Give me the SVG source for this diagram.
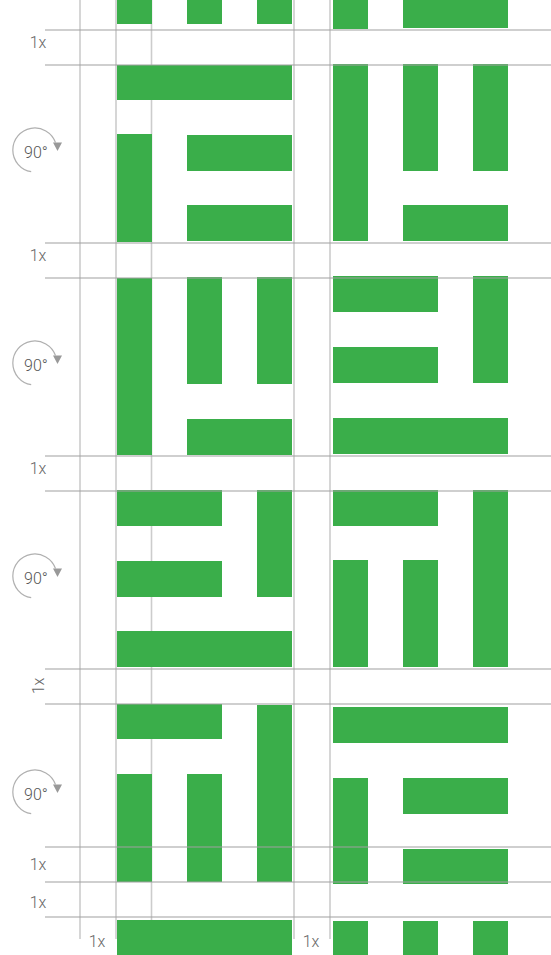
<svg xmlns="http://www.w3.org/2000/svg" width="551" height="955" viewBox="0 0 551 955">
<style>
.v{stroke:#cccccc;stroke-width:1.6;fill:none}
.h{stroke:#a0a0a0;stroke-width:1.2;fill:none}
.g{fill:#3aae4a}
.t{font-family:Roboto,"Liberation Sans",sans-serif;font-size:16px;font-weight:300;fill:#666;text-anchor:middle}
.r{stroke:#b0b0b0;stroke-width:1.2;fill:none}
.a{fill:#999}
</style>
<defs>
<g id="rot">
<path class="r" d="M31.2,171.7 A22,22 0 1 1 55.5,142.5"/>
<polygon class="a" points="53,142.5 62,142.5 57.5,151"/>
<text class="t" x="36" y="158" style="fill:#555">90°</text>
</g>
</defs>
<rect width="551" height="955" fill="#fff"/>
<g id="grid-vertical">
<line class="v" x1="80" y1="0" x2="80" y2="939"/>
<line class="v" x1="116" y1="0" x2="116" y2="939"/>
<line class="v" x1="151.5" y1="0" x2="151.5" y2="920"/>
<line class="v" x1="294" y1="0" x2="294" y2="939"/>
<line class="v" x1="330" y1="0" x2="330" y2="939"/>
</g>
<g id="tile-0">
<rect class="g" x="117" y="0" width="35" height="24"/>
<rect class="g" x="187" y="0" width="35" height="24"/>
<rect class="g" x="257" y="0" width="35" height="24"/>
<rect class="g" x="333" y="0" width="35" height="29"/>
<rect class="g" x="403" y="0" width="105" height="28"/>
</g>
<g id="tile-1">
<rect class="g" x="117" y="65" width="175" height="35"/>
<rect class="g" x="117" y="134" width="35" height="108"/>
<rect class="g" x="187" y="135" width="105" height="36"/>
<rect class="g" x="187" y="205" width="105" height="36"/>
<rect class="g" x="333" y="64" width="35" height="177"/>
<rect class="g" x="403" y="64" width="35" height="107"/>
<rect class="g" x="473" y="64" width="35" height="107"/>
<rect class="g" x="403" y="205" width="105" height="36"/>
</g>
<g id="tile-2">
<rect class="g" x="117" y="278" width="35" height="177"/>
<rect class="g" x="187" y="277" width="35" height="107"/>
<rect class="g" x="257" y="277" width="35" height="107"/>
<rect class="g" x="187" y="419" width="105" height="36"/>
<rect class="g" x="333" y="276" width="105" height="36"/>
<rect class="g" x="473" y="276" width="35" height="107"/>
<rect class="g" x="333" y="347" width="105" height="36"/>
<rect class="g" x="333" y="418" width="175" height="36"/>
</g>
<g id="tile-3">
<rect class="g" x="117" y="490" width="105" height="36"/>
<rect class="g" x="257" y="490" width="35" height="107"/>
<rect class="g" x="117" y="561" width="105" height="36"/>
<rect class="g" x="117" y="631" width="175" height="36"/>
<rect class="g" x="333" y="490" width="105" height="36"/>
<rect class="g" x="473" y="490" width="35" height="177"/>
<rect class="g" x="333" y="560" width="35" height="107"/>
<rect class="g" x="403" y="560" width="35" height="107"/>
</g>
<g id="tile-4">
<rect class="g" x="117" y="704" width="105" height="35"/>
<rect class="g" x="257" y="705" width="35" height="177"/>
<rect class="g" x="117" y="774" width="35" height="108"/>
<rect class="g" x="187" y="774" width="35" height="108"/>
<rect class="g" x="333" y="707" width="175" height="36"/>
<rect class="g" x="333" y="778" width="35" height="106"/>
<rect class="g" x="403" y="778" width="105" height="36"/>
<rect class="g" x="403" y="849" width="105" height="35"/>
</g>
<g id="tile-5">
<rect class="g" x="117" y="920" width="175" height="35"/>
<rect class="g" x="333" y="921" width="35" height="34"/>
<rect class="g" x="403" y="921" width="35" height="34"/>
<rect class="g" x="473" y="921" width="35" height="34"/>
</g>
<g id="grid-horizontal">
<line class="h" x1="45" y1="30" x2="551" y2="30"/>
<line class="h" x1="45" y1="65" x2="551" y2="65"/>
<line class="h" x1="45" y1="243" x2="551" y2="243"/>
<line class="h" x1="45" y1="278" x2="551" y2="278"/>
<line class="h" x1="45" y1="456" x2="551" y2="456"/>
<line class="h" x1="45" y1="491" x2="551" y2="491"/>
<line class="h" x1="45" y1="669" x2="551" y2="669"/>
<line class="h" x1="45" y1="704" x2="551" y2="704"/>
<line class="h" x1="45" y1="847" x2="551" y2="847"/>
<line class="h" x1="45" y1="882" x2="551" y2="882"/>
<line class="h" x1="45" y1="917" x2="551" y2="917"/>
</g>
<g id="labels">
<text class="t" x="38" y="48">1x</text>
<text class="t" x="38" y="261">1x</text>
<text class="t" x="38" y="474">1x</text>
<text class="t" transform="translate(43.5,686) rotate(-90)" x="0" y="0">1x</text>
<text class="t" x="38" y="870">1x</text>
<text class="t" x="38" y="908">1x</text>
<text class="t" x="97" y="947">1x</text>
<text class="t" x="311" y="947">1x</text>
</g>
<g id="rotations">
<use href="#rot"/>
<use href="#rot" y="213"/>
<use href="#rot" y="426"/>
<use href="#rot" y="642"/>
</g>
</svg>
